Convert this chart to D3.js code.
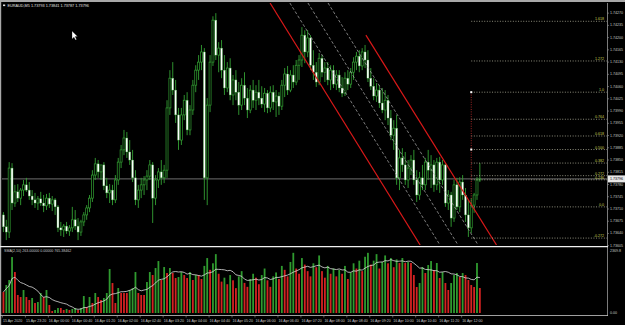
<!DOCTYPE html>
<html>
<head>
<meta charset="utf-8">
<script src="https://cdn.jsdelivr.net/npm/d3@7"></script>
<style>
  html, body { margin: 0; padding: 0; background: #000; }
  svg { display: block; }
</style>
</head>
<body>
<script>
// ---- data ----
var symbol = "EURAUD,M5";

var timeLabels = ["15 Apr 2020", "15 Apr 23:20", "16 Apr 00:00", "16 Apr 00:40", "16 Apr 01:20",
  "16 Apr 02:00", "16 Apr 02:40", "16 Apr 03:20", "16 Apr 04:00", "16 Apr 04:40", "16 Apr 05:20",
  "16 Apr 06:00", "16 Apr 06:40", "16 Apr 07:20", "16 Apr 08:00", "16 Apr 08:40", "16 Apr 09:20",
  "16 Apr 10:00", "16 Apr 10:40", "16 Apr 11:20", "16 Apr 12:00"];
var timeLabelBars = [0, 8, 16, 24, 32, 40, 48, 56, 64, 72, 80, 88, 96, 104, 112, 120, 128, 136, 144, 152, 160];

var priceTicks = [1.74270, 1.74235, 1.74200, 1.74165, 1.74130, 1.74095, 1.74060, 1.74025, 1.73990, 1.73955,
  1.73920, 1.73885, 1.73850, 1.73815, 1.73780, 1.73745, 1.73710, 1.73675, 1.73640, 1.73605];

var opens = [
  1.73693, 1.73659, 1.73644, 1.73827, 1.73727, 1.73759, 1.73741, 1.73764, 1.73779, 1.73764,
  1.73747, 1.73736, 1.73727, 1.73739, 1.73727, 1.73719, 1.73741, 1.73724, 1.73736, 1.73716,
  1.73656, 1.73650, 1.73661, 1.73647, 1.73656, 1.73679, 1.73661, 1.73644, 1.73673, 1.73693,
  1.73713, 1.73741, 1.73807, 1.73839, 1.73816, 1.73836, 1.73776, 1.73756, 1.73764, 1.73736,
  1.73793, 1.73844, 1.73879, 1.73913, 1.73873, 1.73850, 1.73799, 1.73736, 1.73764, 1.73779,
  1.73793, 1.73804, 1.73836, 1.73741, 1.73793, 1.73816, 1.73799, 1.73821, 1.73999, 1.74084,
  1.74050, 1.73979, 1.73907, 1.73979, 1.74021, 1.73936, 1.73993, 1.74064, 1.74107, 1.74130,
  1.74159, 1.73799, 1.74007, 1.74130, 1.74250, 1.74150, 1.74170, 1.74107, 1.74056, 1.74113,
  1.74036, 1.74079, 1.74044, 1.74007, 1.74064, 1.74027, 1.73993, 1.74050, 1.74021, 1.74044,
  1.74027, 1.74010, 1.74041, 1.73999, 1.74044, 1.74016, 1.74033, 1.74004, 1.74064, 1.74096,
  1.74050, 1.74093, 1.74073, 1.74121, 1.74136, 1.74207, 1.74159, 1.74199, 1.74121, 1.74101,
  1.74073, 1.74141, 1.74101, 1.74113, 1.74079, 1.74107, 1.74067, 1.74093, 1.74056, 1.74041,
  1.74084, 1.74067, 1.74101, 1.74130, 1.74147, 1.74119, 1.74159, 1.74136, 1.74084, 1.74061,
  1.74033, 1.74050, 1.74013, 1.73993, 1.74021, 1.73970, 1.73921, 1.73941, 1.73799, 1.73856,
  1.73836, 1.73793, 1.73827, 1.73850, 1.73793, 1.73750, 1.73799, 1.73779, 1.73844, 1.73821,
  1.73836, 1.73779, 1.73844, 1.73793, 1.73836, 1.73727, 1.73750, 1.73684, 1.73779, 1.73716,
  1.73787, 1.73750, 1.73693, 1.73656, 1.73721, 1.73750, 1.73793];

var highs = [
  1.73701, 1.73679, 1.73844, 1.73841, 1.73779, 1.73781, 1.73770, 1.73793, 1.73799, 1.73787,
  1.73764, 1.73756, 1.73747, 1.73759, 1.73750, 1.73753, 1.73756, 1.73747, 1.73741, 1.73721,
  1.73673, 1.73667, 1.73673, 1.73664, 1.73716, 1.73707, 1.73684, 1.73679, 1.73701, 1.73721,
  1.73750, 1.73821, 1.73856, 1.73850, 1.73836, 1.73844, 1.73799, 1.73781, 1.73779, 1.73807,
  1.73856, 1.73893, 1.73936, 1.73930, 1.73907, 1.73879, 1.73821, 1.73779, 1.73799, 1.73804,
  1.73821, 1.73850, 1.73844, 1.73807, 1.73827, 1.73850, 1.73836, 1.74021, 1.74107, 1.74130,
  1.74079, 1.73999, 1.73999, 1.74036, 1.74044, 1.74007, 1.74079, 1.74121, 1.74150, 1.74179,
  1.74170, 1.74027, 1.74150, 1.74261, 1.74270, 1.74187, 1.74193, 1.74150, 1.74130, 1.74141,
  1.74093, 1.74107, 1.74073, 1.74084, 1.74101, 1.74056, 1.74064, 1.74079, 1.74064, 1.74079,
  1.74061, 1.74056, 1.74050, 1.74061, 1.74064, 1.74050, 1.74044, 1.74079, 1.74113, 1.74119,
  1.74107, 1.74121, 1.74136, 1.74150, 1.74230, 1.74221, 1.74221, 1.74207, 1.74164, 1.74130,
  1.74156, 1.74150, 1.74130, 1.74130, 1.74121, 1.74121, 1.74107, 1.74107, 1.74087, 1.74101,
  1.74107, 1.74113, 1.74144, 1.74159, 1.74164, 1.74170, 1.74179, 1.74164, 1.74113, 1.74084,
  1.74070, 1.74064, 1.74056, 1.74050, 1.74036, 1.73993, 1.73964, 1.73979, 1.73879, 1.73884,
  1.73873, 1.73850, 1.73864, 1.73879, 1.73821, 1.73816, 1.73836, 1.73856, 1.73879, 1.73864,
  1.73850, 1.73856, 1.73859, 1.73850, 1.73841, 1.73764, 1.73759, 1.73793, 1.73799, 1.73801,
  1.73807, 1.73770, 1.73736, 1.73741, 1.73756, 1.73801, 1.73841];

var lows = [
  1.73644, 1.73621, 1.73627, 1.73707, 1.73716, 1.73730, 1.73721, 1.73747, 1.73759, 1.73736,
  1.73721, 1.73713, 1.73707, 1.73719, 1.73701, 1.73707, 1.73713, 1.73704, 1.73693, 1.73644,
  1.73633, 1.73630, 1.73639, 1.73633, 1.73644, 1.73650, 1.73621, 1.73633, 1.73661, 1.73679,
  1.73701, 1.73730, 1.73793, 1.73799, 1.73793, 1.73764, 1.73741, 1.73727, 1.73721, 1.73727,
  1.73779, 1.73827, 1.73864, 1.73856, 1.73836, 1.73787, 1.73721, 1.73713, 1.73741, 1.73750,
  1.73764, 1.73793, 1.73670, 1.73721, 1.73770, 1.73779, 1.73784, 1.73799, 1.73979, 1.74036,
  1.73956, 1.73879, 1.73893, 1.73964, 1.73921, 1.73921, 1.73979, 1.74044, 1.74079, 1.74107,
  1.73736, 1.73721, 1.73987, 1.74119, 1.74136, 1.74101, 1.74084, 1.74036, 1.74044, 1.74021,
  1.74007, 1.74021, 1.73979, 1.73993, 1.74007, 1.73970, 1.73984, 1.73999, 1.73993, 1.74007,
  1.73999, 1.73987, 1.73984, 1.73987, 1.73993, 1.73973, 1.73979, 1.73993, 1.74030, 1.74036,
  1.74044, 1.74056, 1.74064, 1.74079, 1.74116, 1.74127, 1.74144, 1.74107, 1.74079, 1.74059,
  1.74064, 1.74087, 1.74073, 1.74064, 1.74050, 1.74056, 1.74050, 1.74044, 1.74030, 1.74033,
  1.74050, 1.74056, 1.74079, 1.74107, 1.74101, 1.74107, 1.74113, 1.74073, 1.74050, 1.74021,
  1.74016, 1.73999, 1.73984, 1.73964, 1.73950, 1.73907, 1.73879, 1.73779, 1.73764, 1.73816,
  1.73779, 1.73770, 1.73807, 1.73779, 1.73730, 1.73736, 1.73764, 1.73764, 1.73793, 1.73770,
  1.73759, 1.73764, 1.73756, 1.73779, 1.73716, 1.73707, 1.73659, 1.73673, 1.73707, 1.73701,
  1.73736, 1.73673, 1.73630, 1.73641, 1.73699, 1.73736, 1.73787];

var closes = [
  1.73659, 1.73644, 1.73827, 1.73727, 1.73759, 1.73741, 1.73764, 1.73779, 1.73764, 1.73747,
  1.73736, 1.73727, 1.73739, 1.73727, 1.73719, 1.73741, 1.73724, 1.73736, 1.73716, 1.73656,
  1.73650, 1.73661, 1.73647, 1.73656, 1.73679, 1.73661, 1.73644, 1.73673, 1.73693, 1.73713,
  1.73741, 1.73807, 1.73839, 1.73816, 1.73836, 1.73776, 1.73756, 1.73764, 1.73736, 1.73793,
  1.73844, 1.73879, 1.73913, 1.73873, 1.73850, 1.73799, 1.73736, 1.73764, 1.73779, 1.73793,
  1.73804, 1.73836, 1.73741, 1.73793, 1.73816, 1.73799, 1.73821, 1.73999, 1.74084, 1.74050,
  1.73979, 1.73907, 1.73979, 1.74021, 1.73936, 1.73993, 1.74064, 1.74107, 1.74130, 1.74159,
  1.73799, 1.74007, 1.74130, 1.74250, 1.74150, 1.74170, 1.74107, 1.74056, 1.74113, 1.74036,
  1.74079, 1.74044, 1.74007, 1.74064, 1.74027, 1.73993, 1.74050, 1.74021, 1.74044, 1.74027,
  1.74010, 1.74041, 1.73999, 1.74044, 1.74016, 1.74033, 1.74004, 1.74064, 1.74096, 1.74050,
  1.74093, 1.74073, 1.74121, 1.74136, 1.74207, 1.74159, 1.74199, 1.74121, 1.74101, 1.74073,
  1.74141, 1.74101, 1.74113, 1.74079, 1.74107, 1.74067, 1.74093, 1.74056, 1.74041, 1.74084,
  1.74067, 1.74101, 1.74130, 1.74147, 1.74119, 1.74159, 1.74136, 1.74084, 1.74061, 1.74033,
  1.74050, 1.74013, 1.73993, 1.74021, 1.73970, 1.73921, 1.73941, 1.73799, 1.73856, 1.73836,
  1.73793, 1.73827, 1.73850, 1.73793, 1.73750, 1.73799, 1.73779, 1.73844, 1.73821, 1.73836,
  1.73779, 1.73844, 1.73793, 1.73836, 1.73727, 1.73750, 1.73684, 1.73779, 1.73716, 1.73787,
  1.73750, 1.73693, 1.73656, 1.73721, 1.73750, 1.73793, 1.73796];

var volumes = [
  802, 1070, 1261, 2139, 1566, 688, 611, 879, 611, 497,
  573, 382, 420, 764, 611, 879, 306, 76, 115, 191,
  191, 115, 153, 115, 153, 191, 115, 191, 649, 229,
  611, 382, 764, 611, 497, 573, 764, 1681, 1146, 382,
  955, 764, 764, 764, 879, 955, 1566, 764, 688, 688,
  1184, 1566, 1452, 1719, 1986, 1261, 1757, 1528, 1719, 1528,
  1337, 1375, 1566, 1452, 1337, 1566, 1261, 1452, 1450, 1300,
  1800, 2100, 1650, 1900, 2250, 1500, 1200, 1350, 1100, 1450,
  1250, 950, 1400, 1600, 1150, 1000, 1300, 1500, 1350, 1100,
  1450, 1700, 1250, 1000, 1400, 1550, 1300, 1800, 1650, 1400,
  1950, 2300, 1700, 1500, 2100, 1850, 1600, 1400, 1900, 1750,
  2200, 1600, 1350, 1800, 1500, 1700, 1400, 1650, 1500, 1800,
  1300, 1550, 1900, 1700, 2000, 1600, 2150, 2300, 1850, 2000,
  2250, 1700, 1950, 2200, 1900, 2100, 1750, 2050, 1911, 2101,
  1911, 1948, 1911, 1452, 993, 1146, 1757, 1528, 1834, 1986,
  1643, 1911, 1337, 1566, 1146, 879, 1146, 1452, 1528, 1375,
  1528, 1452, 1261, 1070, 993, 1911, 955];
var volumeMax = 2369.8;
var smaPeriod = 10;
var indicatorText = "SMA(2,10) 263.00000 0.00000 765.38462";

// fibonacci retracement (level 0 / level 1 anchors)
var fibBar = 163;
var fibPrice0 = 1.73716;
var fibPrice1 = 1.74044;
var fibLevels = [1.618, 1.272, 1.0, 0.764, 0.618, 0.5, 0.382, 0.272, 0.236, 0, -0.272];
var fibNames = ["1.618", "1.272", "1.0", "0.764", "0.618", "0.500", "0.382", "0.272", "0.236", "0.0", "-0.272"];

// channel lines: [bar1, price1, bar2, price2]
var redLines = [[92.9, 1.74299, 145.2, 1.73607], [126.3, 1.74207, 171.8, 1.73607]];
var dashLines = [[99.8, 1.74299, 152.1, 1.73607], [106.1, 1.74299, 158.4, 1.73607], [113.1, 1.74299, 165.4, 1.73607]];

// ---- layout ----
var width = 625;
var height = 325;
var plotLeft = 2, plotRight = 607;
var mainTop = 3, mainBottom = 245;
var volTop = 251, volBottom = 313;
var fontFam = "'Liberation Sans', Arial, sans-serif";
var green = "#33a033";
var fmt = d3.format(".5f");

var svg = d3.select("body")
  .append("svg")
  .attr("width", width)
  .attr("height", height)
  .style("background", "#000");

var x = d3.scaleLinear()
  .domain([-0.5, (plotRight - plotLeft) / 2.87 - 0.5])
  .range([plotLeft, plotRight]);

var y = d3.scaleLinear()
  .domain([1.73607, 1.74299])
  .range([mainBottom, mainTop]);

var yVol = d3.scaleLinear()
  .domain([0, volumeMax])
  .range([volBottom, volTop]);

//window frame
svg.append("rect").attr("x", 0).attr("y", 0).attr("width", width).attr("height", 2).attr("fill", "#a8a8a8");
svg.append("rect").attr("x", 0).attr("y", 0).attr("width", 1.2).attr("height", height).attr("fill", "#a8a8a8");

svg.append("defs").append("clipPath").attr("id", "mainClip")
  .append("rect")
  .attr("x", plotLeft).attr("y", mainTop)
  .attr("width", plotRight - plotLeft).attr("height", mainBottom - mainTop);

var main = svg.append("g").attr("clip-path", "url(#mainClip)");

//bid line
var lastClose = closes[closes.length - 1];
main.append("line")
  .attr("x1", plotLeft).attr("x2", plotRight)
  .attr("y1", y(lastClose)).attr("y2", y(lastClose))
  .attr("stroke", "#8a8a8a")
  .attr("stroke-width", 0.8);

//candles
var bars = d3.range(closes.length);
main.selectAll(".wick")
  .data(bars)
  .enter()
  .append("line")
  .attr("class", "wick")
  .attr("x1", function(i) { return x(i); })
  .attr("x2", function(i) { return x(i); })
  .attr("y1", function(i) { return y(highs[i]); })
  .attr("y2", function(i) { return y(lows[i]); })
  .attr("stroke", green)
  .attr("stroke-width", 0.9);

main.selectAll(".body")
  .data(bars)
  .enter()
  .append("rect")
  .attr("class", "body")
  .attr("x", function(i) { return x(i) - 1; })
  .attr("width", 2)
  .attr("y", function(i) { return y(Math.max(opens[i], closes[i])); })
  .attr("height", function(i) { return Math.max(0.8, Math.abs(y(opens[i]) - y(closes[i]))); })
  .attr("fill", function(i) { return closes[i] >= opens[i] ? "#000" : "#ffffff"; })
  .attr("stroke", green)
  .attr("stroke-width", function(i) { return closes[i] >= opens[i] ? 0.7 : 0.35; });

//channel
main.selectAll(".dash")
  .data(dashLines)
  .enter()
  .append("line")
  .attr("x1", function(d) { return x(d[0]); })
  .attr("y1", function(d) { return y(d[1]); })
  .attr("x2", function(d) { return x(d[2]); })
  .attr("y2", function(d) { return y(d[3]); })
  .attr("stroke", "#b0b0b0")
  .attr("stroke-width", 0.7)
  .attr("stroke-dasharray", "3,2");

main.selectAll(".red")
  .data(redLines)
  .enter()
  .append("line")
  .attr("x1", function(d) { return x(d[0]); })
  .attr("y1", function(d) { return y(d[1]); })
  .attr("x2", function(d) { return x(d[2]); })
  .attr("y2", function(d) { return y(d[3]); })
  .attr("stroke", "#d81818")
  .attr("stroke-width", 1.2);

//fibonacci
function fibPrice(l) { return fibPrice0 + l * (fibPrice1 - fibPrice0); }

main.selectAll(".fib")
  .data(fibLevels)
  .enter()
  .append("line")
  .attr("x1", x(fibBar))
  .attr("x2", plotRight)
  .attr("y1", function(l) { return y(fibPrice(l)); })
  .attr("y2", function(l) { return y(fibPrice(l)); })
  .attr("stroke", "#c8c8b0")
  .attr("stroke-width", 0.7)
  .attr("stroke-dasharray", "1,1.6");

main.append("line")
  .attr("x1", x(fibBar)).attr("x2", x(fibBar))
  .attr("y1", y(fibPrice1)).attr("y2", y(fibPrice0))
  .attr("stroke", "#c83030")
  .attr("stroke-width", 0.8)
  .attr("stroke-dasharray", "1,1.4");

main.selectAll(".fibMark")
  .data([1, 0.5])
  .enter()
  .append("rect")
  .attr("x", x(fibBar) - 1)
  .attr("y", function(l) { return y(fibPrice(l)) - 1; })
  .attr("width", 2).attr("height", 2)
  .attr("fill", "#ffffff");

svg.selectAll(".fibText")
  .data(fibLevels)
  .enter()
  .append("text")
  .attr("x", plotRight - 3)
  .attr("y", function(l) { return y(fibPrice(l)) - 0.8; })
  .attr("text-anchor", "end")
  .attr("font-family", fontFam)
  .attr("font-size", "3.6px")
  .attr("fill", "#cccc55")
  .text(function(l, i) { return fibNames[i]; });

//title
svg.append("rect").attr("x", 3).attr("y", 4.5).attr("width", 2.2).attr("height", 1.6).attr("fill", "#e0e0e0");
svg.append("text")
  .attr("x", 7.5)
  .attr("y", 7)
  .attr("font-family", fontFam)
  .attr("font-size", "3.8px")
  .attr("fill", "#e0e0e0")
  .text(symbol + "  " + fmt(opens[opens.length - 1]) + " " + fmt(highs[highs.length - 1]) + " " +
        fmt(lows[lows.length - 1]) + " " + fmt(lastClose));

//mouse pointer
svg.append("path")
  .attr("d", "M72,31 L72,39 L74,37.2 L75.4,40 L76.6,39.4 L75.2,36.6 L77.6,36.6 Z")
  .attr("fill", "#ffffff")
  .attr("stroke", "#000")
  .attr("stroke-width", 0.3);

//price axis
svg.append("line")
  .attr("x1", plotRight + 0.5).attr("x2", plotRight + 0.5)
  .attr("y1", mainTop).attr("y2", 316)
  .attr("stroke", "#9a9a9a")
  .attr("stroke-width", 0.8);

var yAxisG = svg.append("g");
yAxisG.selectAll("line")
  .data(priceTicks)
  .enter()
  .append("line")
  .attr("x1", plotRight + 0.5).attr("x2", plotRight + 2)
  .attr("y1", function(d) { return y(d); })
  .attr("y2", function(d) { return y(d); })
  .attr("stroke", "#9a9a9a")
  .attr("stroke-width", 0.6);

yAxisG.selectAll("text")
  .data(priceTicks)
  .enter()
  .append("text")
  .attr("x", plotRight + 3)
  .attr("y", function(d) { return y(d); })
  .attr("dominant-baseline", "central")
  .attr("font-family", fontFam)
  .attr("font-size", "3.6px")
  .attr("fill", "#c8c8c8")
  .text(function(d) { return fmt(d); });

//current price box
svg.append("rect")
  .attr("x", plotRight + 1)
  .attr("y", y(lastClose) - 3.5)
  .attr("width", 17)
  .attr("height", 7)
  .attr("fill", "#e8e8e8");
svg.append("text")
  .attr("x", plotRight + 3)
  .attr("y", y(lastClose))
  .attr("dominant-baseline", "central")
  .attr("font-family", fontFam)
  .attr("font-size", "3.6px")
  .attr("fill", "#000")
  .text(fmt(lastClose));

//sub window separator
svg.append("line")
  .attr("x1", 0).attr("x2", plotRight + 1)
  .attr("y1", 246.6).attr("y2", 246.6)
  .attr("stroke", "#f0f0f0")
  .attr("stroke-width", 1.3);

svg.append("line")
  .attr("x1", 0).attr("x2", plotRight + 1)
  .attr("y1", 315.5).attr("y2", 315.5)
  .attr("stroke", "#c8c8c8")
  .attr("stroke-width", 0.8);

//volumes
var vol = svg.append("g");
vol.selectAll("rect")
  .data(bars)
  .enter()
  .append("rect")
  .attr("x", function(i) { return x(i) - 0.9; })
  .attr("width", 1.8)
  .attr("y", function(i) { return yVol(volumes[i]); })
  .attr("height", function(i) { return volBottom - yVol(volumes[i]); })
  .attr("fill", function(i) { return i > 0 && volumes[i] > volumes[i - 1] ? "#2f9a2f" : "#d42222"; });

var sma = bars.map(function(i) {
  return d3.mean(volumes.slice(Math.max(0, i - smaPeriod + 1), i + 1));
});

var smaLine = d3.line()
  .x(function(d, i) { return x(i); })
  .y(function(d) { return yVol(d); });

vol.append("path")
  .datum(sma)
  .attr("d", smaLine)
  .attr("fill", "none")
  .attr("stroke", "#dcdcdc")
  .attr("stroke-width", 0.8);

svg.append("text")
  .attr("x", 4)
  .attr("y", 252.3)
  .attr("font-family", fontFam)
  .attr("font-size", "3.6px")
  .attr("fill", "#c8c8c8")
  .text(indicatorText);

svg.append("text")
  .attr("x", plotRight + 3).attr("y", yVol(volumeMax))
  .attr("dominant-baseline", "central")
  .attr("font-family", fontFam).attr("font-size", "3.6px")
  .attr("fill", "#c8c8c8")
  .text(d3.format(".1f")(volumeMax));

svg.append("text")
  .attr("x", plotRight + 3).attr("y", yVol(0))
  .attr("dominant-baseline", "central")
  .attr("font-family", fontFam).attr("font-size", "3.6px")
  .attr("fill", "#c8c8c8")
  .text("0.00");

//time axis
var tAxis = svg.append("g");
tAxis.selectAll("line")
  .data(timeLabelBars)
  .enter()
  .append("line")
  .attr("x1", function(b) { return x(b) - 1; })
  .attr("x2", function(b) { return x(b) - 1; })
  .attr("y1", 315.5).attr("y2", 317.5)
  .attr("stroke", "#9a9a9a")
  .attr("stroke-width", 0.6);

tAxis.selectAll("text")
  .data(timeLabelBars)
  .enter()
  .append("text")
  .attr("x", function(b) { return x(b) - 0.5; })
  .attr("y", 321.6)
  .attr("font-family", fontFam)
  .attr("font-size", "3.6px")
  .attr("fill", "#c8c8c8")
  .text(function(b, i) { return timeLabels[i]; });
</script>
</body>
</html>
